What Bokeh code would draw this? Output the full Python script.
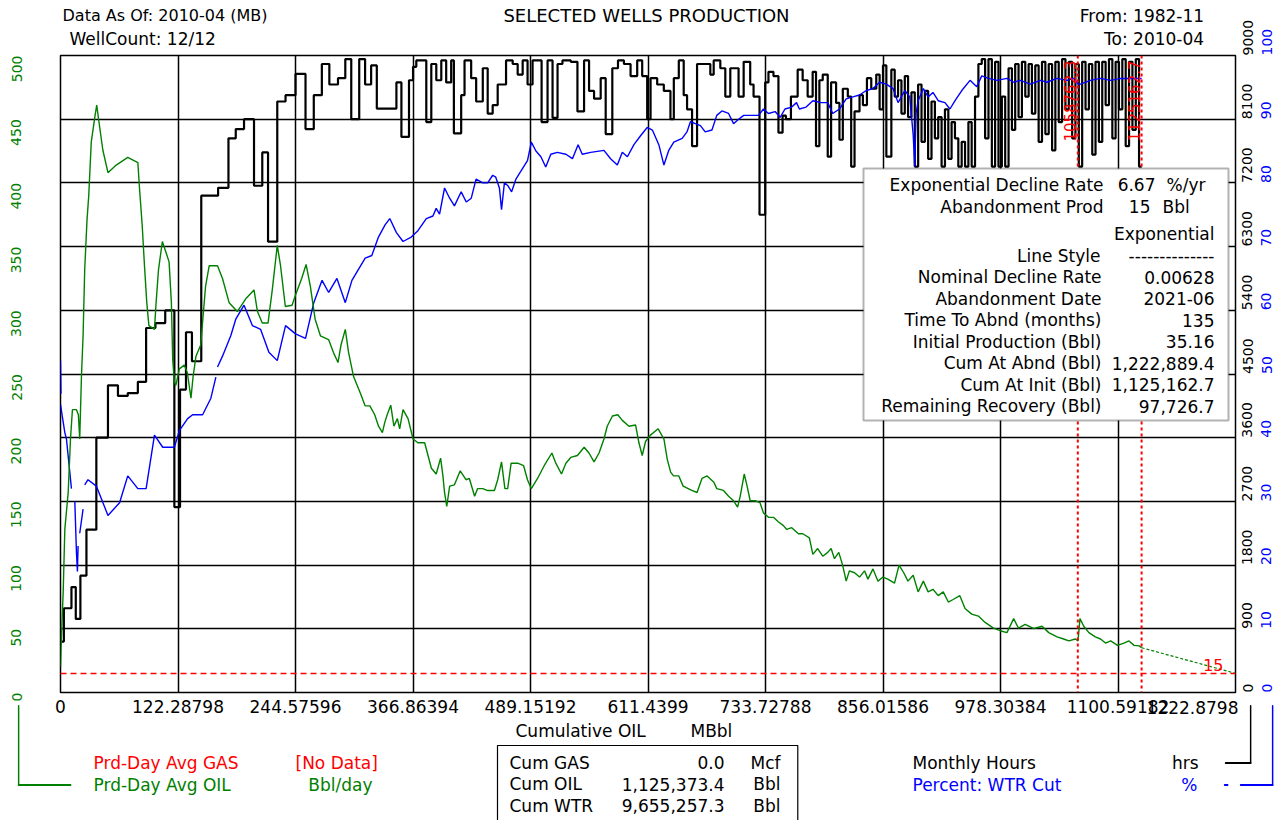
import math
from bokeh.plotting import figure
from bokeh.models import (Range1d, LinearAxis, FixedTicker, Span, Label,
                          BoxAnnotation, NumeralTickFormatter)
from bokeh.embed import file_html
from bokeh.resources import INLINE

# ------------------------------------------------------------------ data
x_ticks = [0.0, 122.28798, 244.57596, 366.86394, 489.15192, 611.4399,
           733.72788, 856.01586, 978.30384, 1100.59182, 1222.8798]
x_tick_labels = ["0", "122.28798", "244.57596", "366.86394", "489.15192",
                 "611.4399", "733.72788", "856.01586", "978.30384",
                 "1100.59182", "1222.8798"]
oil_ticks = [0, 50, 100, 150, 200, 250, 300, 350, 400, 450, 500]
hrs_ticks = [0, 900, 1800, 2700, 3600, 4500, 5400, 6300, 7200, 8100, 9000]
pct_ticks = [0, 10, 20, 30, 40, 50, 60, 70, 80, 90, 100]

# Prd-Day Avg OIL (Bbl/day) vs cumulative oil (MBbl)
oil_cum = [0.0, 0.5, 2.8, 4.5, 8.0, 10.4, 12.4, 16.6, 18.6, 20.0, 21.8, 23.5, 25.2, 27.6,
           29.4, 32.0, 35.6, 37.7, 40.0, 44.0, 49.4, 58.0, 70.0, 80.5, 82.2, 85.0, 87.4,
           89.8, 92.0, 97.8, 99.5, 102.0, 106.0, 110.0, 113.0, 115.4, 116.8, 118.5, 120.0,
           123.7, 128.8, 132.0, 135.8, 138.0, 141.0, 146.0, 147.8, 151.0, 154.8, 163.4,
           168.6, 175.5, 184.0, 192.8, 201.4, 205.0, 210.0, 216.0, 220.4, 225.6, 229.0,
           234.0, 241.0, 244.6, 251.0, 255.6, 260.0, 265.0, 270.5, 279.0, 284.0, 288.8,
           292.0, 296.4, 299.8, 305.0, 312.0, 317.0, 322.0, 327.0, 331.0, 335.0, 337.5,
           340.0, 343.7, 347.0, 350.6, 353.0, 356.5, 361.7, 366.9, 372.0, 379.0, 386.0,
           391.0, 395.6, 398.0, 399.7, 402.0, 405.0, 410.0, 416.0, 422.0, 425.5, 431.0,
           434.0, 439.5, 444.6, 451.6, 455.0, 459.0, 462.5, 465.4, 469.0, 475.8, 482.0,
           486.0, 490.0, 496.5, 503.4, 511.4, 515.5, 521.4, 526.0, 531.0, 538.0, 545.0,
           550.0, 555.3, 560.5, 565.6, 569.0, 574.4, 580.0, 584.7, 591.6, 598.5, 602.0,
           605.4, 608.9, 614.0, 622.0, 628.0, 631.5, 635.0, 638.0, 643.5, 648.0, 657.0,
           662.5, 667.6, 673.0, 680.0, 683.0, 690.0, 695.3, 700.5, 704.7, 707.4, 711.6,
           714.3, 717.8, 723.0, 728.0, 731.6, 736.8, 742.0, 747.0, 752.4, 755.8, 761.0,
           768.0, 772.5, 779.4, 783.0, 788.0, 793.3, 798.5, 802.0, 805.5, 810.0, 814.0,
           817.7, 821.0, 826.4, 831.6, 836.8, 840.3, 845.6, 850.8, 856.0, 861.0, 868.0,
           872.7, 877.6, 882.0, 887.4, 892.6, 898.0, 903.0, 908.0, 913.5, 918.7, 924.0,
           929.0, 936.0, 941.4, 948.3, 955.3, 962.3, 971.0, 978.0, 985.0, 992.0, 997.0,
           1004.0, 1013.0, 1021.6, 1028.5, 1037.2, 1044.0, 1049.4, 1056.3, 1059.0, 1061.0,
           1065.0, 1070.3, 1077.0, 1082.4, 1087.6, 1093.0, 1100.0, 1106.7, 1112.0, 1117.3,
           1122.6, 1125.2]
oil_rate = [20, 34, 79, 128, 157, 199, 222, 222, 218, 199, 248, 280, 332, 371,
            390, 432, 451, 461, 448, 426, 408, 414, 420, 416, 396, 367, 335,
            306, 288, 285, 306, 332, 354, 345, 338, 306, 261, 244, 241,
            254, 257, 251, 231, 248, 264, 273, 290, 319, 335, 335,
            325, 306, 299, 309, 316, 299, 290, 290, 316, 351, 335,
            303, 304, 312, 325, 336, 319, 293, 280, 277, 267, 259,
            273, 285, 267, 248, 235, 225, 225, 218, 209, 204, 212,
            218, 225.5, 209, 215, 207, 222, 215, 199, 196, 196, 176,
            171.5, 184, 170, 157, 146, 162, 163, 174, 167, 168, 154,
            160, 160, 158.5, 158.5, 167, 181, 160, 160, 180, 180, 178,
            167, 160, 168, 178, 188, 180, 171.5, 180, 184.5, 186, 192.5,
            188, 181, 188, 199, 209, 217, 218, 213.6, 209, 210, 196,
            186, 197, 202, 207, 199, 183, 173, 170, 170, 162, 158.6,
            157, 168, 170, 165, 160, 158.6, 154, 150.5, 145.6, 154, 171.5,
            163, 150.5, 150.5, 149, 141, 137.5, 137.5, 134, 131, 128, 129.4,
            124.6, 124.6, 121.4, 108.4, 113, 107, 110, 113, 105, 110, 100,
            87.4, 95.5, 94, 90.6, 95.5, 89, 97, 87.4, 90.6, 89, 85.8,
            100, 94, 87.4, 92, 79, 87.4, 79, 81, 76, 79, 71,
            73, 76, 66, 61.5, 60, 55, 50.5, 48.5, 47, 58, 50.5,
            53.4, 50.2, 52, 47, 43.7, 42, 40.5, 42, 40.5, 58,
            52, 47, 43.7, 42, 38.8, 40.5, 37, 38.8, 40.5, 37,
            36.6, 35.2]

# Monthly Hours (hrs) - step starts (cum MBbl) and values
hrs_cum = [0.0, 3.5, 11.4, 15.9, 20.7, 27.0, 37.3, 49.4, 59.8, 70.0, 80.5, 89.1, 98.8,
           109.0, 118.5, 124.4, 130.6, 136.8, 146.5, 164.0, 174.8, 182.4, 191.0, 201.4,
           210.0, 216.0, 225.6, 234.2, 244.6, 255.0, 263.6, 272.0, 279.8, 288.8, 296.4,
           302.6, 310.9, 317.0, 323.3, 329.2, 349.6, 354.8, 362.7, 366.9, 370.3, 380.7,
           385.9, 391.1, 396.3, 401.4, 406.6, 409.4, 417.0, 420.5, 427.4, 432.6, 439.5,
           444.6, 449.8, 455.0, 463.7, 470.6, 475.8, 481.0, 486.1, 491.3, 500.7, 506.9,
           512.1, 517.3, 522.4, 531.1, 538.0, 544.9, 550.1, 555.3, 562.2, 567.4, 574.3,
           580.2, 586.4, 593.3, 600.2, 605.4, 610.6, 614.1, 621.0, 627.9, 634.8, 638.3,
           643.5, 648.6, 652.1, 657.3, 662.5, 676.3, 679.8, 686.7, 691.9, 697.1, 705.7,
           711.0, 717.8, 721.3, 727.5, 733.4, 736.8, 742.0, 747.2, 751.5, 755.0, 760.2,
           767.2, 772.4, 777.6, 782.8, 786.3, 789.8, 793.3, 798.5, 802.0, 807.2, 810.7,
           814.2, 819.4, 822.9, 826.4, 831.6, 835.1, 839.3, 843.8, 849.0, 852.5, 856.0,
           859.5, 864.7, 868.2, 871.7, 875.2, 878.7, 882.1, 885.6, 889.1, 892.6, 896.1,
           899.6, 903.0, 906.5, 910.0, 913.5, 917.0, 920.5, 924.0, 927.4, 930.9, 934.4,
           937.9, 941.4, 944.9, 948.3, 951.8, 955.3, 958.8, 962.3, 965.8, 969.3, 972.7,
           976.2, 979.7, 983.2, 986.7, 990.2, 993.6, 997.1, 1000.6, 1004.1, 1007.6, 1011.0,
           1014.5, 1018.0, 1021.5, 1025.0, 1028.5, 1032.0, 1035.4, 1038.9, 1042.4, 1045.9,
           1049.4, 1052.9, 1056.3, 1059.8, 1063.3, 1066.8, 1070.3, 1073.8, 1077.2, 1080.7,
           1084.2, 1087.7, 1091.2, 1094.7, 1098.1, 1101.6, 1105.1, 1108.6, 1112.1, 1115.6,
           1119.1, 1122.5, 1125.2]
hrs_val = [720, 1190, 1490, 1040, 1650, 2300, 3600, 4340, 4190, 4230, 4390, 5150, 5220,
           5400, 2620, 4280, 5090, 4680, 7020, 7130, 7830, 7960, 8100, 7160,
           7630, 6370, 8350, 8440, 8740, 7960, 8440, 8880, 8590, 8680, 8950,
           8100, 8950, 8590, 8860, 8250, 8620, 7850, 8650, 8840, 8930, 8060,
           8880, 8650, 8930, 8620, 8930, 7900, 8440, 8930, 8680, 8350, 8820,
           8180, 8300, 8590, 8930, 8880, 8730, 8930, 8590, 8930, 8060, 8930,
           8120, 8880, 8930, 8910, 8210, 8930, 8500, 8390, 8680, 7890, 8820,
           8930, 8880, 8710, 8930, 8710, 8100, 8680, 8590, 8500, 8100, 8680,
           8930, 8440, 8240, 7720, 8880, 8730, 8930, 8820, 8420, 8820, 8420,
           8910, 8590, 8420, 6750, 8620, 8770, 8710, 7910, 8150, 8100, 8420,
           8800, 8650, 8420, 8770, 7720, 8650, 8730, 7570, 8620, 8330, 7810,
           8530, 8420, 7430, 8210, 8440, 8300, 8680, 8530, 8730, 8240, 8860,
           7570, 8800, 8420, 8650, 8180, 8710, 8130, 8480, 7430, 8590, 7780,
           8500, 7540, 8350, 7830, 8130, 7430, 8240, 7540, 8060, 7830, 7430,
           7780, 7430, 8060, 7430, 8420, 8880, 8950, 7830, 8950, 7430, 8910,
           7430, 8420, 7430, 8820, 7950, 8880, 8130, 8910, 8420, 8880, 8180,
           8860, 7780, 8910, 7890, 8880, 7660, 8910, 8060, 8950, 8240,
           8910, 7830, 8880, 7430, 8910, 8240, 8880, 7600, 8910, 7780,
           8910, 8300, 8950, 7830, 8910, 8240, 8950, 7720, 8910, 7950,
           8950, 7430, 7430]

# Percent: WTR Cut (%) - NaN separates gaps in the record
nan = float("nan")
wc_cum = [0.0, 0.5, nan, 0.0, 4.5, 6.2, 11.4, nan, 14.9, 16.6, 17.6, 18.3, nan,
          20.0, 23.5, nan, 25.2, 28.6, 37.3, 49.4, 61.5, 70.0, 80.5, 89.1, 97.8,
          106.4, 118.5, 123.7, 132.3, 137.5, 147.9, 156.5, 161.7, nan, 163.4, 168.6,
          177.2, 182.4, 191.0, 199.7, 208.3, 216.9, 225.6, 234.2, 244.6, 255.0, 263.6,
          272.2, 279.1, 287.7, 296.4, 303.3, 317.1, 324.0, 330.9, 337.8, 342.7, 349.6,
          356.5, 365.0, 372.0, 380.7, 387.6, 391.0, 394.5, 399.7, 405.0, 410.0, 417.0,
          422.3, 427.5, 432.5, 439.5, 444.6, 449.8, 453.0, 456.8, 459.0, 462.0, 465.4,
          469.5, 474.0, 479.0, 486.0, 490.0, 494.8, 500.0, 505.0, 510.3, 517.0, 526.0,
          532.8, 538.7, 543.0, 551.8, 565.6, 572.5, 579.5, 584.7, 590.0, 596.8, 603.7,
          610.6, 616.0, 622.7, 628.0, 633.0, 638.3, 647.0, 652.0, 655.6, 660.7, 666.0,
          671.0, 678.0, 683.0, 688.4, 695.3, 700.5, 705.7, 711.0, 717.8, 726.5, 731.6,
          736.8, 743.7, 749.0, 754.0, 761.0, 766.0, 769.0, 776.0, 783.0, 791.6, 798.5,
          803.7, 810.7, 817.7, 824.7, 831.6, 838.6, 845.6, 852.5, 859.5, 866.5, 871.7,
          878.7, 883.9, 887.5, 889.0, 890.5, 892.6, 898.0, 903.0, 908.0, 913.5, 920.5,
          925.7, 931.0, 938.0, 946.6, 953.6, 958.8, 965.8, 974.5, 985.0, 992.0, 999.0,
          1009.3, 1020.0, 1026.7, 1037.0, 1047.6, 1054.6, 1059.0, 1061.5, 1072.0, 1082.4,
          1093.0, 1103.4, 1113.8, 1125.2]
wc_pct = [52.1, 46.9, nan, 45.2, 40.8, 39.8, 32.0, nan, 30.0, 22.0, 19.0, 23.0, nan,
          25.0, 28.8, nan, 32.6, 33.4, 32.4, 27.8, 29.8, 34.0, 32.0, 32.0, 40.4,
          38.5, 38.5, 41.1, 43.0, 43.6, 43.6, 46.2, 49.5, nan, 51.1, 52.8,
          56.0, 58.6, 60.8, 57.6, 57.0, 53.4, 52.1, 57.6, 56.3, 55.6, 61.2,
          64.7, 62.8, 65.0, 61.2, 64.7, 68.2, 68.6, 71.5, 73.4, 74.4, 72.2,
          70.8, 71.5, 72.5, 74.4, 74.8, 76.0, 75.1, 79.2, 77.6, 76.4, 78.6,
          77.0, 77.6, 80.6, 80.0, 80.0, 81.2, 80.9, 79.2, 75.8, 80.0, 79.6,
          78.6, 80.6, 81.8, 83.5, 86.4, 85.0, 84.1, 82.5, 84.5, 84.8, 84.5,
          83.8, 86.0, 84.5, 84.8, 85.1, 83.8, 82.8, 84.8, 84.1, 86.0, 87.4,
          88.7, 88.3, 86.0, 82.8, 85.1, 86.4, 87.0, 88.0, 89.6, 89.3, 89.0,
          88.0, 88.3, 90.6, 91.3, 90.9, 89.3, 90.0, 90.6, 90.6, 90.6, 91.6,
          90.9, 91.2, 90.3, 91.6, 91.9, 92.6, 91.6, 91.9, 92.9, 92.6, 92.6,
          90.9, 91.6, 93.2, 93.5, 93.8, 94.5, 94.8, 95.8, 95.5, 94.8, 92.6,
          94.5, 93.5, 87.4, 82.5, 91.0, 92.9, 94.8, 93.5, 94.2, 92.9, 92.6,
          91.6, 92.9, 94.5, 96.1, 95.1, 96.8, 96.4, 96.1, 96.4, 95.8, 96.1,
          95.5, 96.1, 95.8, 96.4, 96.1, 96.4, 95.5, 95.5, 96.1, 96.4,
          96.1, 96.4, 96.4, 96.4]

# exponential forecast (start: cum at init / initial production, end: cum at abnd / abandonment)
fc_cum = [1125.1627, 1222.8894]
fc_rate = [35.16, 15.0]
aband_rate = 15
marker_cums = [1058.7623, 1125.1627]
marker_labels = ["1058762.3", "1125162.7"]

info_rows = [("Nominal Decline Rate", "0.00628"), ("Abandonment Date", "2021-06"),
             ("Time To Abnd (months)", "135"), ("Initial Production (Bbl)", "35.16"),
             ("Cum At Abnd (Bbl)", "1,222,889.4"), ("Cum At Init (Bbl)", "1,125,162.7"),
             ("Remaining Recovery (Bbl)", "97,726.7")]
cum_rows = [("Cum GAS", "0.0", "Mcf"), ("Cum OIL", "1,125,373.4", "Bbl"),
            ("Cum WTR", "9,655,257.3", "Bbl")]

# ------------------------------------------------------------------ styling
GREEN = "#008000"
BLUE = "#0000ff"
RED = "#ff0000"
FONT = "DejaVu Sans"
FS = "17px"
XMAX = 1222.8798
YMAX = 500.0
# frame position in the picture (px)
FL, FR, FT, FB = 60, 1235, 55, 692


def X(px):
    return (px - FL) / (FR - FL) * XMAX


def Y(py):
    return (FB - py) / (FB - FT) * YMAX


p = figure(frame_width=FR - FL, frame_height=FB - FT,
           min_border_left=FL, min_border_top=FT,
           min_border_right=30, min_border_bottom=124,
           x_range=Range1d(0, XMAX), y_range=Range1d(0, YMAX),
           output_backend="svg", toolbar_location=None)
p.background_fill_color = "white"
p.border_fill_color = "white"
p.outline_line_color = "black"
p.outline_line_width = 1.5

p.extra_y_ranges = {"hrs": Range1d(0, 9000), "pct": Range1d(0, 100)}

# grid
p.xgrid.ticker = FixedTicker(ticks=x_ticks)
p.ygrid.ticker = FixedTicker(ticks=oil_ticks)
for g in (p.xgrid[0], p.ygrid[0]):
    g.grid_line_color = "black"
    g.grid_line_width = 1.5
    g.grid_line_alpha = 1.0


def style_axis(ax, color, size, standoff):
    ax.axis_line_color = None
    ax.major_tick_line_color = None
    ax.minor_tick_line_color = None
    ax.major_tick_out = 0
    ax.major_tick_in = 0
    ax.major_label_text_color = color
    ax.major_label_text_font = FONT
    ax.major_label_text_font_size = size
    ax.major_label_standoff = standoff


xa = p.xaxis[0]
xa.ticker = FixedTicker(ticks=x_ticks[:-1])
xa.formatter = NumeralTickFormatter(format="0.[00000]")
style_axis(xa, "black", FS, 7)

ya = p.yaxis[0]
ya.ticker = FixedTicker(ticks=oil_ticks)
ya.major_label_orientation = math.pi / 2
style_axis(ya, GREEN, "14px", 44)

ax_h = LinearAxis(y_range_name="hrs", ticker=FixedTicker(ticks=hrs_ticks),
                  major_label_orientation=math.pi / 2)
style_axis(ax_h, "black", "14px", 12)
p.add_layout(ax_h, "right")
ax_p = LinearAxis(y_range_name="pct", ticker=FixedTicker(ticks=pct_ticks),
                  major_label_orientation=math.pi / 2)
style_axis(ax_p, BLUE, "14px", 6)
p.add_layout(ax_p, "right")

# series
p.step(hrs_cum, hrs_val, mode="after", y_range_name="hrs",
       line_color="black", line_width=2.2)
p.line(wc_cum, wc_pct, y_range_name="pct", line_color=BLUE, line_width=1.4)
p.line(oil_cum, oil_rate, line_color=GREEN, line_width=1.4)
p.line(fc_cum, fc_rate, line_color=GREEN, line_width=1.2, line_dash="3 2")

# reference lines
p.add_layout(Span(location=aband_rate, dimension="width", line_color=RED,
                  line_width=1.5, line_dash="6 4"))
for c in marker_cums:
    p.add_layout(Span(location=c, dimension="height", line_color=RED,
                      line_width=2, line_dash="3 3"))


def lab(px, py, text, color="black", align="left", size=FS, place="center"):
    obj = Label(x=X(px), y=Y(py), text=text, text_color=color,
                text_align=align, text_baseline="middle",
                text_font=FONT, text_font_size=size)
    if place == "center":
        p.add_layout(obj)
    else:
        p.add_layout(obj, place)


def out(px, py, text, color="black", align="left", size=FS):
    # texts outside the frame go into a side panel so they are not clipped
    lab(px, py, text, color=color, align=align, size=size, place="below")


for c, t in zip(marker_cums, marker_labels):
    p.add_layout(Label(x=c, y=Y(60), x_offset=-2, text=t, text_color=RED,
                       text_align="right", text_baseline="bottom",
                       angle=math.pi / 2, text_font=FONT, text_font_size="15px"))
p.add_layout(Label(x=X(1223), y=aband_rate, y_offset=2, text=str(aband_rate),
                   text_color=RED, text_align="right", text_baseline="bottom",
                   text_font=FONT, text_font_size="16px"))

# info box
p.add_layout(BoxAnnotation(left=X(863), right=X(1228), top=Y(168), bottom=Y(420),
                           fill_color="white", fill_alpha=1.0,
                           line_color="black", line_width=2))
lab(1103, 184, "Exponential Decline Rate", align="right")
lab(1155, 184, "6.67", align="right")
lab(1166, 184, "%/yr")
lab(1103, 206, "Abandonment Prod", align="right")
lab(1150, 206, "15", align="right")
lab(1162, 206, "Bbl")
lab(1214, 233, "Exponential", align="right")
lab(1100, 255, "Line Style", align="right")
lab(1214, 255, "--------------", align="right")
for i, (k, v) in enumerate(info_rows):
    yy = 276.5 + i * 21.5
    lab(1101, yy, k, align="right")
    lab(1214, yy, v, align="right")

# last x tick label sits flush with the frame's right edge
out(1238, 707, x_tick_labels[-1], align="right")

# header
out(62, 15, "Data As Of:  2010-04 (MB)", size="16px")
out(69, 38, "WellCount:  12/12")
out(646, 15, "SELECTED WELLS PRODUCTION", align="center", size="18px")
out(1209, 15, "From:  1982-11", align="right")
out(1209, 38, "To:  2010-04", align="right")

# x title
out(515, 730, "Cumulative OIL")
out(690, 730, "MBbl")

# legend left
out(93, 762, "Prd-Day Avg GAS", color=RED)
out(295, 762, "[No Data]", color=RED)
out(93, 784, "Prd-Day Avg OIL", color=GREEN)
out(372, 784, "Bbl/day", color=GREEN, align="right")


def rect(x0, y0, x1, y1, color, filled=True):
    # a line (one side ~0) or an outlined box outside the frame, drawn as the
    # background/border of a tiny label so it is not clipped to the frame
    w, h = int(round(x1 - x0)), int(round(y1 - y0))
    pad = dict(left=0, right=w, top=0, bottom=h)
    kw = dict(x=X(x0), y=Y(y0), text=".", text_color="white",
              text_font_size="1px", text_align="left", text_baseline="top",
              border_line_color=color, border_line_width=1.2)
    if filled:
        kw["background_fill_color"] = color
    try:
        obj = Label(padding=pad, **kw)
    except Exception:
        obj = Label(padding=(0, w, 0, h), **kw)
    p.add_layout(obj, "below")


rect(18, 705, 18, 784, GREEN)
rect(18, 784, 70, 784, GREEN)
rect(1250, 705, 1250, 762, "black")
rect(1225, 762, 1250, 762, "black")
rect(1272, 705, 1272, 784, BLUE)
rect(1240, 784, 1272, 784, BLUE)
rect(1224, 784, 1227, 784, BLUE)

# cum box
rect(497, 745, 797, 840, "black", filled=False)
for i, (k, v, u) in enumerate(cum_rows):
    yy = 762 + i * 21.5
    out(509, yy, k)
    out(724, yy, v, align="right")
    out(780, yy, u, align="right")

# legend right
out(912, 762, "Monthly Hours")
out(1198, 762, "hrs", align="right")
out(912, 784, "Percent: WTR Cut", color=BLUE)
out(1197, 784, "%", color=BLUE, align="right")

open("out.html", "w").write(file_html(p, INLINE))
